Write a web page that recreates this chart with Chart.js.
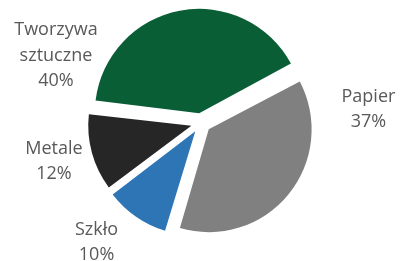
<!DOCTYPE html>
<html>
<head>
<meta charset="utf-8">
<script src="https://cdn.jsdelivr.net/npm/chart.js@4"></script>
<style>
  html, body { margin: 0; padding: 0; background: #fff; }
</style>
</head>
<body>
<canvas id="wykres" width="400" height="261"></canvas>
<script>
// dane z wykresu
const kategorie = ['Papier', 'Szkło', 'Metale', 'Tworzywa sztuczne'];
const udzialy = [37, 10, 12, 40];
const etykiety = [['Papier', '37%'], ['Szkło', '10%'], ['Metale', '12%'], ['Tworzywa', 'sztuczne', '40%']];

const kolory = ['#808080', '#2e75b6', '#262626', '#0a5e36'];

// gdzie stoi etykieta: przesunięcie kąta od środka wycinka (stopnie) i odległość (w promieniach)
const etykietyPoz = [
  { kat: -44, odl: 1.68 },
  { kat: 6.5, odl: 1.585 },
  { kat: 0.7, odl: 1.52 },
  { kat: -54.3, odl: 1.6 }
];

const etykietyPlugin = {
  id: 'etykiety',
  afterDatasetsDraw(chart) {
    const ctx = chart.ctx;
    const meta = chart.getDatasetMeta(0);
    ctx.save();
    ctx.font = '18px "Open Sans", sans-serif';
    ctx.fillStyle = '#595959';
    ctx.textAlign = 'center';
    ctx.textBaseline = 'middle';
    meta.data.forEach((arc, i) => {
      const p = arc.getProps(['x', 'y', 'startAngle', 'endAngle', 'outerRadius'], true);
      const srodek = (p.startAngle + p.endAngle) / 2 + etykietyPoz[i].kat * Math.PI / 180;
      const r = p.outerRadius * etykietyPoz[i].odl;
      const x = p.x + Math.cos(srodek) * r;
      const y = p.y + Math.sin(srodek) * r;
      const linie = etykiety[i];
      const lh = 25.5;
      linie.forEach((t, j) => {
        ctx.fillText(t, x, y + (j - (linie.length - 1) / 2) * lh);
      });
    });
    ctx.restore();
  }
};

new Chart(document.getElementById('wykres'), {
  type: 'pie',
  data: {
    labels: kategorie,
    datasets: [{
      data: udzialy,
      backgroundColor: kolory,
      borderWidth: 0,
      offset: 40
    }]
  },
  options: {
    responsive: false,
    animation: false,
    rotation: 62,
    radius: 100,
    layout: { padding: { top: 13, bottom: 28, left: 2, right: 0 } },
    plugins: {
      legend: { display: false },
      tooltip: { enabled: false }
    }
  },
  plugins: [etykietyPlugin]
});
</script>
</body>
</html>
